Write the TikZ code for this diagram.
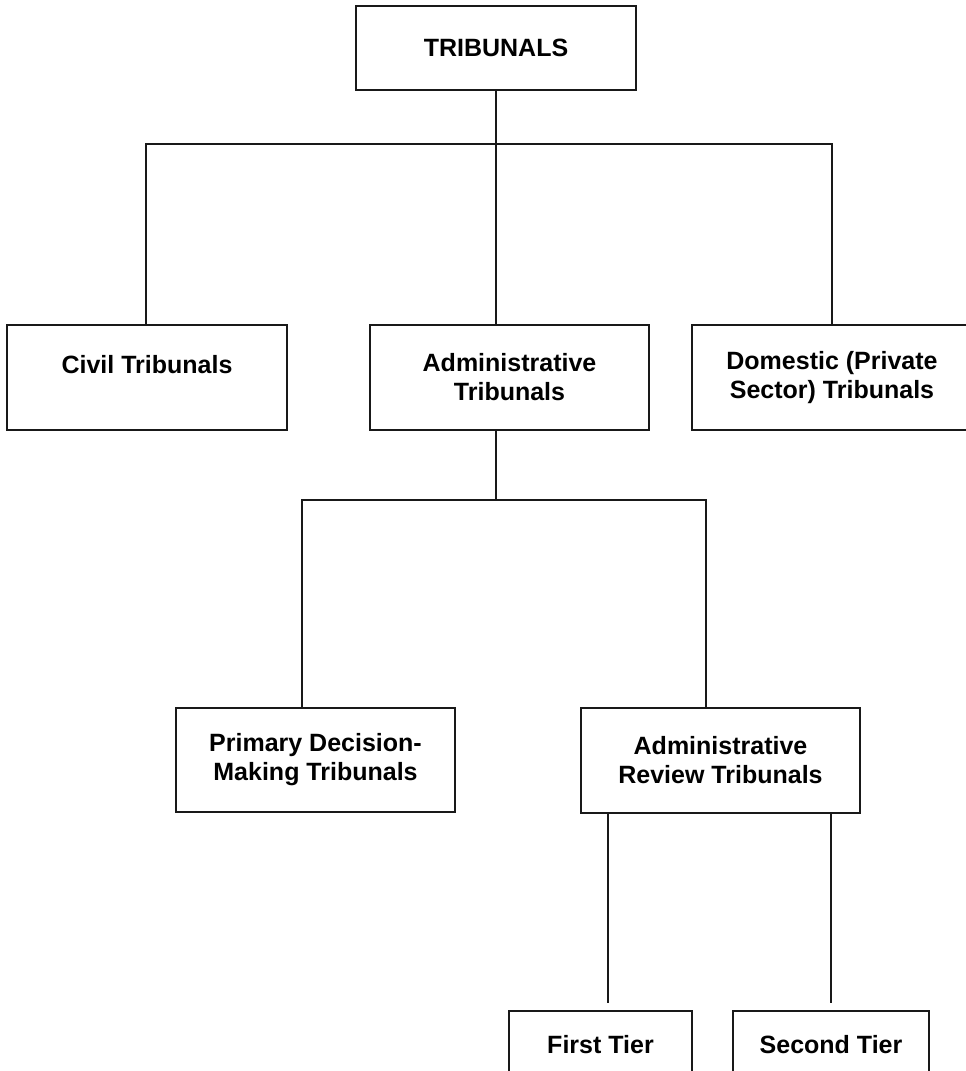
\documentclass[tikz,border=0pt]{standalone}
\usepackage{fontspec}
\setmainfont{Liberation Sans}
\begin{document}
\begin{tikzpicture}[x=1pt,y=-1pt,
  box/.style={draw=black!90, line width=2pt, rectangle, inner sep=0pt, align=center,
    font=\bfseries\fontsize{25}{29}\selectfont},
  lbl/.style={font=\bfseries\fontsize{25}{29}\selectfont, inner sep=0pt},
  conn/.style={draw=black!90, line width=2pt}]
\clip (0,0) rectangle (966,1071);
\fill[white] (0,0) rectangle (966,1071);
\node[box, minimum width=280pt, minimum height=84pt] (trib) at (496,48) {TRIBUNALS};
\node[box, minimum width=280pt, minimum height=105pt] (civ) at (147,377.5)
  {}; \node[lbl] (civt) at (147,364.5) {Civil Tribunals};
\node[box, minimum width=279pt, minimum height=105pt] (adm) at (509.5,377.5) {Administrative\\Tribunals};
\node[box, minimum width=280pt, minimum height=105pt] (dom) at (832,377.5) {Domestic (Private\\Sector) Tribunals};
\node[box, minimum width=279pt, minimum height=104pt] (prim) at (315.5,760) {Primary Decision-\\Making Tribunals};
\node[box, minimum width=279pt, minimum height=105pt] (rev) at (720.5,760.5) {Administrative\\Review Tribunals};
\node[box, minimum width=183pt, minimum height=105pt] (ft) at (600.5,1063.5) {};
\node[lbl] (ftt) at (600.5,1045) {First Tier};
\node[box, minimum width=196pt, minimum height=105pt] (st) at (831,1063.5) {};
\node[lbl] (stt) at (831,1045) {Second Tier};
% top bus
\coordinate (b1) at (496,144);
\coordinate (b1l) at (146,144);
\coordinate (b1r) at (832,144);
\draw[conn] (trib.south) -- (b1) -- (b1 |- adm.north);
\draw[conn] (b1l |- civ.north) -- (b1l) -- (b1r) -- (b1r |- dom.north);
% second bus
\coordinate (a1) at (496,430);
\coordinate (b2) at (496,500);
\coordinate (b2l) at (302,500);
\coordinate (b2r) at (706,500);
\draw[conn] (a1) -- (b2);
\draw[conn] (b2l |- prim.north) -- (b2l) -- (b2r) -- (b2r |- rev.north);
% lower lines
\coordinate (e1) at (608,1003);
\coordinate (e2) at (831,1003);
\draw[conn] (e1 |- rev.south) -- (e1);
\draw[conn] (e2 |- rev.south) -- (e2);
\end{tikzpicture}
\end{document}
